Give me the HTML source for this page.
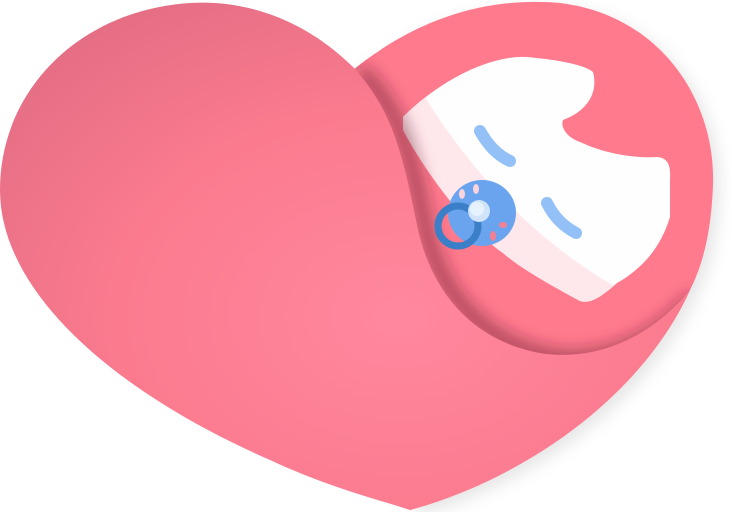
<!DOCTYPE html>
<html><head><meta charset="utf-8"><style>
html,body{margin:0;padding:0;background:#fff;width:732px;height:512px;overflow:hidden}
</style></head><body>
<svg width="732" height="512" viewBox="0 0 732 512">
<defs>
<radialGradient id="g1" cx="0.58" cy="0.62" r="0.75">
<stop offset="0" stop-color="#ff889f"/><stop offset="0.55" stop-color="#fb7a8e"/><stop offset="1" stop-color="#e26d84"/>
</radialGradient>
<filter id="blur" x="-20%" y="-20%" width="150%" height="150%">
<feGaussianBlur stdDeviation="8"/>
</filter>
<filter id="sh2" x="-20%" y="-20%" width="150%" height="150%">
<feDropShadow dx="6" dy="6" stdDeviation="8" flood-color="#000" flood-opacity="0.1"/>
</filter>
<clipPath id="faceclip"><path d="M403,117 C440,80 490,55 527,57 C560,60 585,65 593,72 C598,90 590,110 563,120 C560,128 568,138 580,142 C610,156 640,158 657,157 C668,158 671,165 670,180 L670,217 C660,250 640,270 617,283 C600,298 590,304 580,301 C550,285 520,268 503,253 C470,230 430,180 403,130 Z"/></clipPath>
<clipPath id="backclip"><path d="M330,90 C410,15 490,-3 560,3 C660,15 716,100 713,185 C711,240 700,270 690,290 C640,400 520,480 410,510 L380,220 Z"/></clipPath>
</defs>
<path filter="url(#sh2)" d="M330,90 C410,15 490,-3 560,3 C660,15 716,100 713,185 C711,240 700,270 690,290 C640,400 520,480 410,510 L380,220 Z" fill="#ff7a8d"/>
<g clip-path="url(#faceclip)">
<rect x="390" y="40" width="300" height="280" fill="#fefefe"/>
<path d="M390,110 L425,97 C470,170 540,250 640,300 L600,320 C500,280 440,200 390,140 Z" fill="#ffe8ec"/>
</g>
<path d="M480,131 C488,145 497,155 510,161" stroke="#93c0f7" stroke-width="12" stroke-linecap="round" fill="none"/>
<path d="M547,203 C554,217 563,226 576,233" stroke="#93c0f7" stroke-width="12" stroke-linecap="round" fill="none"/>
<g clip-path="url(#backclip)">
<path filter="url(#blur)" fill="none" stroke="#6a1f30" stroke-opacity="0.6" stroke-width="14" d="M360,70 C400,110 410,150 426,230 C440,290 478,340 548,356 C590,364 645,352 694,298"/>
</g>
<path fill="url(#g1)" d="M353,67 C300,15 240,0 190,3 C80,10 0,90 0,190 C0,290 110,390 270,460 C330,488 380,500 410,510 C520,480 640,400 690,290 C640,350 580,360 540,353 C470,340 432,290 418,230 C402,150 392,110 353,67 Z"/>
<g>
<ellipse cx="482" cy="213" rx="34" ry="33" fill="#6aa4ee"/>
<ellipse cx="462" cy="194" rx="3" ry="5" fill="#fbd3dc"/>
<ellipse cx="476" cy="189" rx="3" ry="5" fill="#fbd3dc"/>
<ellipse cx="503" cy="225" rx="4" ry="3" fill="#f57f93"/>
<ellipse cx="493" cy="236" rx="3" ry="5" fill="#f57f93"/>
<circle cx="458" cy="226" r="20" fill="none" stroke="#3b7fc8" stroke-width="7"/>
<circle cx="479" cy="211" r="11" fill="#cfe4fb"/>
<circle cx="477" cy="209" r="7" fill="#e6f2fe"/>
</g>
</svg>
</body></html>
